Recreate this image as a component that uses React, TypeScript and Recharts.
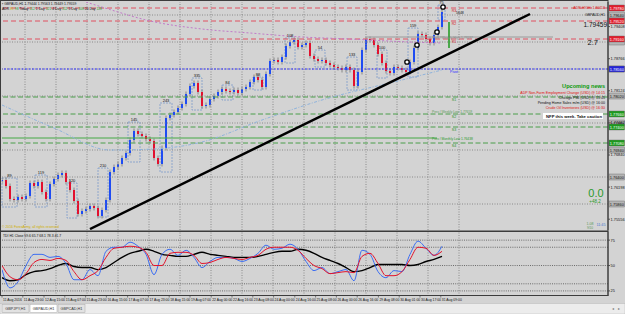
import React from "react";
import {
  ComposedChart,
  Bar,
  Line,
  XAxis,
  YAxis,
  ReferenceLine,
  ReferenceArea,
  ReferenceDot,
} from "recharts";

// GBPAUD H1 chart, one candle here stands for ~3 hours (11 Aug - 31 Aug 2016)
const closes = [
  1.7634, 1.7622, 1.7596, 1.7594, 1.76, 1.7596, 1.7602, 1.7628, 1.7622, 1.763,
  1.761, 1.7596, 1.7626, 1.7636, 1.7644, 1.7648, 1.763, 1.7614, 1.7592, 1.7566,
  1.7572, 1.7576, 1.7582, 1.7578, 1.7562, 1.7574, 1.7594, 1.765, 1.766, 1.7666,
  1.7678, 1.7688, 1.7714, 1.7732, 1.7726, 1.7722, 1.7716, 1.7712, 1.7678, 1.7666,
  1.7698, 1.7758, 1.7764, 1.777, 1.7778, 1.7786, 1.7806, 1.7822, 1.7828, 1.781,
  1.7782, 1.7784, 1.7796, 1.7802, 1.781, 1.7816, 1.7812, 1.781, 1.7814, 1.7808,
  1.7816, 1.782, 1.783, 1.784, 1.7834, 1.782, 1.7846, 1.7872, 1.7874, 1.787,
  1.788, 1.7902, 1.791, 1.7914, 1.79, 1.7904, 1.7908, 1.7882, 1.7876, 1.7872,
  1.7874, 1.7868, 1.7864, 1.786, 1.7858, 1.7854, 1.786, 1.7854, 1.7822, 1.785,
  1.7894, 1.7916, 1.7914, 1.7904, 1.7886, 1.7868, 1.7852, 1.7848, 1.786, 1.7858,
  1.7854, 1.785, 1.787, 1.7898, 1.7926, 1.7924, 1.7916, 1.7908, 1.7924, 1.794,
  1.797,
];

// moving averages and trendline: [bar index, price]
const slowMA: [number, number][] = [
  [21, 1.799], [29, 1.797], [36, 1.7954], [50, 1.7936], [62, 1.7928],
  [75, 1.792], [87, 1.7916], [102, 1.791], [110, 1.7908],
];
const fastMA: [number, number][] = [
  [0, 1.7784], [13, 1.7738], [27, 1.7694], [38, 1.7696], [50, 1.771],
  [65, 1.7754], [80, 1.7794], [100, 1.7834], [110, 1.7854],
];
const trendPts: [number, number][] = [[22, 1.7536], [132, 1.7966]];

// swing boxes: label, first bar, last bar, low, high
const swings: [string, number, number, number, number][] = [
  ["89", 0, 3.75, 1.758, 1.7638],
  ["119", 8.25, 11.25, 1.758, 1.7644],
  ["120", 16.25, 18.75, 1.7558, 1.7628],
  ["210", 24, 26.5, 1.756, 1.7658],
  ["145", 31.5, 34.5, 1.767, 1.775],
  ["243", 39.5, 42.5, 1.765, 1.7788],
  ["335", 47.5, 50, 1.7774, 1.7838],
  ["84", 55, 57.75, 1.7794, 1.7824],
  ["88", 62.75, 65.25, 1.7814, 1.784],
  ["108", 70.75, 73.25, 1.7868, 1.7918],
  ["54", 78.25, 80.75, 1.786, 1.7894],
  ["133", 86.25, 88.75, 1.7814, 1.788],
  ["100", 93.75, 96.25, 1.7838, 1.7894],
  ["159", 101.5, 104, 1.784, 1.7938],
  ["75", 109, 110.75, 1.7954, 1.7984],
];
const zigzag: [number, number][] = [[101.25, 1.787], [103.75, 1.7904], [108.75, 1.793], [110.25, 1.798]];

const redLevels = [1.7978, 1.7952, 1.7916];
const pivotLevel = 1.7856;
const greenLevels = [1.78, 1.7766, 1.774, 1.7708];
const monthlyLow = 1.7718;
const weeklyHigh = 1.792;
const levelNames = ["R3", "R2", "R1", "Pivot", "S1", "S2", "S3", "S4"];

const gridPrices = [1.7964, 1.791, 1.7856, 1.7802, 1.7748, 1.7694, 1.764, 1.7586];
const gridBars = [5.75, 13.5, 21.25, 29, 36.75, 44.5, 52.25, 60, 67.75, 75.5, 83.25, 91, 98.75, 106.5, 114.25];
const priceTicks = [
  1.79836, 1.79622, 1.79408, 1.79194, 1.7898, 1.78766, 1.78552, 1.78338, 1.78124, 1.7791, 1.77696,
  1.77482, 1.77268, 1.77054, 1.7684, 1.76626, 1.76412, 1.76198, 1.75984, 1.7577, 1.75556,
];

// TDI oscillator, one value every two bars
const tdiFast = [
  46, 28, 34, 50, 61, 61, 58, 59, 52, 36, 36, 46, 40, 64, 68, 68, 73, 69, 61, 41, 61, 66, 60, 65, 58, 48, 54, 58,
  58, 57, 54, 57, 62, 70, 66, 67, 71, 66, 54, 45, 48, 42, 44, 46, 35, 65, 61, 44, 38, 45, 44, 61, 74, 67, 60, 69,
];
const tdiSignal = [
  50, 39, 36, 42, 53, 56, 55, 57, 55, 44, 36, 40, 45, 58, 67, 68, 69, 68, 63, 50, 50, 62, 63, 63, 60, 52, 53, 56,
  58, 57, 56, 58, 60, 66, 68, 68, 68, 65, 57, 50, 47, 42, 43, 44, 43, 59, 62, 52, 40, 40, 44, 56, 68, 67, 60, 64,
];
const tdiBase = [
  38, 35, 36, 41, 44, 45, 47, 50, 52, 49, 48, 48, 46, 48, 53, 58, 62, 64, 66, 64, 61, 60, 59, 59, 61, 63, 61, 60,
  59, 58, 58, 58, 59, 61, 63, 64, 64, 66, 65, 62, 58, 55, 52, 48, 44, 45, 48, 51, 51, 51, 51, 50, 51, 54, 56, 59,
];
const tdiLevels = [75, 68, 50, 32, 25];

const timeLabels = [
  "11 Aug 2016", "11 Aug 23:00", "12 Aug 15:00", "15 Aug 07:00", "15 Aug 23:00", "16 Aug 15:00",
  "17 Aug 07:00", "17 Aug 23:00", "18 Aug 15:00", "19 Aug 07:00", "22 Aug 00:00", "22 Aug 16:00",
  "23 Aug 08:00", "24 Aug 00:00", "24 Aug 16:00", "25 Aug 08:00", "26 Aug 00:00", "26 Aug 16:00",
  "29 Aug 08:00", "30 Aug 01:00", "30 Aug 17:00", "31 Aug 09:00",
];
const timeTickPos = [0, 5.2, 10.5, 15.7, 20.9, 26.1, 31.4, 36.6, 41.8, 47, 52.3, 57.5, 62.7, 67.9, 73.2, 78.4, 83.6, 88.8, 94.1, 99.3, 104.5, 109.7];

const news: [string, string][] = [
  ["ADP Non-Farm Employment Change (USD) @ 14:15", "#e01010"],
  ["Chicago PMI (USD) @ 15:45", "#111"],
  ["Pending Home Sales m/m (USD) @ 16:00", "#111"],
  ["Crude Oil Inventories (USD) @ 16:30", "#e01010"],
];
const tabs = ["GBPJPY,H1", "GBPAUD,H1", "GBPCAD,H1"];

const FONT = "Liberation Sans, DejaVu Sans, sans-serif";
const BG = "#d3d3d3";
const X_DOMAIN: [number, number] = [0, 151.5];

type Row = { i: number; o?: number; c?: number; body?: [number, number]; ma1?: number; ma2?: number; trend?: number };
const rows: Row[] = Array.from({ length: 133 }, (_, i) => ({ i }));
closes.forEach((c, i) => {
  const o = i === 0 ? c : closes[i - 1];
  rows[i].o = o;
  rows[i].c = c;
  rows[i].body = [Math.min(o, c), Math.max(o, c)];
});
slowMA.forEach(([i, v]) => (rows[i].ma1 = v));
fastMA.forEach(([i, v]) => (rows[i].ma2 = v));
trendPts.forEach(([i, v]) => (rows[i].trend = v));

const oscRows = tdiFast.map((v, k) => ({ i: k * 2, fast: v, signal: tdiSignal[k], base: tdiBase[k] }));

function Candle(props: any) {
  const { x, width, payload } = props;
  let { y, height } = props;
  if (!payload || payload.c == null || y == null || isNaN(y)) return <g />;
  if (height < 0) {
    y += height;
    height = -height;
  }
  const h = Math.max(height, 1);
  const up = payload.c >= payload.o;
  const cx = x + width / 2;
  return (
    <g>
      <line x1={cx} x2={cx} y1={y - 2.5} y2={y + h + 2.5} stroke="#7e7e7e" strokeWidth={0.9} />
      <rect x={x} y={y} width={width} height={h} fill={up ? "#1f4cf2" : "#e2102e"} />
    </g>
  );
}

function PriceTag(props: any) {
  const { viewBox, bg, fg, price } = props;
  if (!viewBox) return null;
  const x = viewBox.x + viewBox.width + 1;
  const y = viewBox.y;
  return (
    <g>
      <rect x={x} y={y - 3} width={15.5} height={6} fill={bg} stroke="#666" strokeWidth={0.4} />
      {price ? (
        <text x={x + 0.8} y={y + 1.5} fontSize={3.9} fill={fg} fontFamily={FONT}>
          {price}
        </text>
      ) : null}
    </g>
  );
}

function PriceTick({ x, y, payload }: any) {
  return (
    <text x={x + 0.5} y={y + 1.4} fontSize={3.9} fill="#111" fontFamily={FONT}>
      {Number(payload.value).toFixed(5)}
    </text>
  );
}

function OscTick({ x, y, payload }: any) {
  return (
    <text x={x + 0.5} y={y + 1.4} fontSize={3.9} fill="#111" fontFamily={FONT}>
      {payload.value}
    </text>
  );
}

function TimeTick(props: any) {
  const { x, y, payload } = props;
  const idx = props.index ?? timeTickPos.indexOf(payload.value);
  return (
    <g>
      <line x1={x} x2={x} y1={y} y2={y + 1.5} stroke="#333" strokeWidth={0.6} />
      <text x={x + 1} y={y + 5} fontSize={3.4} fill="#111" fontFamily={FONT}>
        {timeLabels[idx]}
      </text>
    </g>
  );
}

export default function App() {
  const levelColors = ["#d42020", "#d42020", "#d42020", "#2b2bff", "#2a8f2a", "#2a8f2a", "#2a8f2a", "#2a8f2a"];
  const levelPrices = [...redLevels, pivotLevel, ...greenLevels];
  return (
    <div style={{ position: "absolute", left: 0, top: 0, width: 625, height: 314, background: BG, overflow: "hidden" }}>
      <div style={{ position: "absolute", left: 0, top: 0 }}>
        <ComposedChart width={625} height={232} data={rows} margin={{ top: 2, right: 0, bottom: 2, left: 2 }}>
          <XAxis dataKey="i" type="number" domain={X_DOMAIN} hide allowDataOverflow />
          <YAxis
            orientation="right"
            width={17}
            domain={[1.7534, 1.799]}
            ticks={priceTicks}
            tick={<PriceTick />}
            tickSize={2}
            tickMargin={0}
            tickLine={{ stroke: "#555" }}
            axisLine={{ stroke: "#444" }}
            allowDataOverflow
          />
          {gridBars.map((b) => (
            <ReferenceLine key={"v" + b} x={b} stroke="#8a8a8a" strokeDasharray="1 1.5" />
          ))}
          {gridPrices.map((p) => (
            <ReferenceLine
              key={"g" + p}
              y={p}
              stroke="#8a8a8a"
              strokeDasharray="1 1.5"
              label={<PriceTag bg="#b5b5b5" fg="#111" price={p === 1.791 ? "" : p.toFixed(5)} />}
            />
          ))}
          {redLevels.map((p) => (
            <ReferenceLine
              key={"r" + p}
              y={p}
              stroke="#e05060"
              strokeDasharray="5 3"
              label={<PriceTag bg="#e21d2c" fg="#fff" price={p.toFixed(5)} />}
            />
          ))}
          <ReferenceLine
            y={pivotLevel}
            stroke="#3535ff"
            strokeDasharray="2 1.5"
            label={<PriceTag bg="#2424d8" fg="#fff" price={pivotLevel.toFixed(5)} />}
          />
          {greenLevels.map((p, k) => (
            <ReferenceLine
              key={"s" + p}
              y={p}
              stroke="#4a9e4a"
              strokeDasharray="5 2.5"
              label={k === 0 ? undefined : <PriceTag bg="#1e9a1e" fg="#fff" price={p.toFixed(5)} />}
            />
          ))}
          <ReferenceLine segment={[{ x: 0, y: monthlyLow }, { x: 108.75, y: monthlyLow }]} stroke="#45a845" />
          <ReferenceLine segment={[{ x: 91.25, y: weeklyHigh }, { x: 137.75, y: weeklyHigh }]} stroke="#9a9a9a" />
          <ReferenceLine segment={[{ x: 111.75, y: 1.795 }, { x: 111.75, y: 1.7898 }]} stroke="#1c9a1c" strokeWidth={1.5} />
          {swings.map(([n, x1, x2, lo, hi]) => (
            <ReferenceArea
              key={"b" + n + x1}
              x1={x1}
              x2={x2}
              y1={lo}
              y2={hi}
              fill="none"
              stroke="#7d9ccc"
              strokeWidth={0.8}
              strokeDasharray="2 1"
              label={{ value: n, position: "top", offset: 1.5, fontSize: 4, fill: "#111", fontFamily: FONT }}
            />
          ))}
          <Line dataKey="ma1" type="monotone" stroke="#c27ac9" strokeWidth={1} strokeDasharray="2 2" dot={false} connectNulls isAnimationActive={false} />
          <Line dataKey="ma2" type="monotone" stroke="#8fb3dc" strokeWidth={1} strokeDasharray="3 1.5 1 1.5" dot={false} connectNulls isAnimationActive={false} />
          <Bar dataKey="body" barSize={2} shape={<Candle />} isAnimationActive={false} />
          <Line dataKey="trend" stroke="#000" strokeWidth={2.5} dot={false} connectNulls isAnimationActive={false} />
          {zigzag.map(([i, p]) => (
            <ReferenceDot key={"z" + i} x={i} y={p} r={2.2} fill="#fff" stroke="#000" strokeWidth={1.3} />
          ))}
          {levelPrices.map((p, k) => (
            <ReferenceDot
              key={"n" + p}
              x={113}
              y={p}
              r={0}
              fill="none"
              stroke="none"
              label={{ value: levelNames[k], position: "bottom", offset: 1, fontSize: 3.6, fill: levelColors[k], fontFamily: FONT }}
            />
          ))}
        </ComposedChart>
      </div>
      <div style={{ position: "absolute", left: 0, top: 231 }}>
        <ComposedChart width={625} height={73} data={oscRows} margin={{ top: 1, right: 0, bottom: 0, left: 2 }}>
          <XAxis
            dataKey="i"
            type="number"
            domain={X_DOMAIN}
            ticks={timeTickPos}
            interval={0}
            tick={<TimeTick />}
            tickSize={0}
            tickMargin={0}
            height={8}
            axisLine={false}
            tickLine={false}
            allowDataOverflow
          />
          <YAxis
            orientation="right"
            width={17}
            domain={[20, 83]}
            ticks={tdiLevels}
            tick={<OscTick />}
            tickSize={2}
            tickMargin={0}
            tickLine={{ stroke: "#555" }}
            axisLine={{ stroke: "#444" }}
            allowDataOverflow
          />
          {gridBars.map((b) => (
            <ReferenceLine key={"ov" + b} x={b} stroke="#8a8a8a" strokeDasharray="1 1.5" />
          ))}
          {tdiLevels.map((v) => (
            <ReferenceLine key={"ol" + v} y={v} stroke="#6a6a6a" strokeDasharray="1 1.2" />
          ))}
          <Line dataKey="base" type="monotone" stroke="#000" strokeWidth={1.4} dot={false} isAnimationActive={false} />
          <Line dataKey="fast" type="monotone" stroke="#3d6ef2" strokeWidth={1} dot={false} isAnimationActive={false} />
          <Line dataKey="signal" type="monotone" stroke="#e3142c" strokeWidth={1} dot={false} isAnimationActive={false} />
        </ComposedChart>
      </div>
      <svg width={625} height={314} style={{ position: "absolute", left: 0, top: 0, pointerEvents: "none" }} fontFamily={FONT}>
        <rect x={0.5} y={0.5} width={607.5} height={230.5} fill="none" stroke="#3c3c3c" />
        <rect x={0.5} y={231.5} width={607.5} height={64} fill="none" stroke="#3c3c3c" />
        <text x={2} y={5} fontSize={3.4} fill="#111">
          ▪ GBPAUD,H1  1.79444 1.79563 1.79449 1.79559
        </text>
        <text x={2} y={9.5} fontSize={3.4} fill="#111">
          <tspan>ADR</tspan>
          <tspan fill="#c8b000"> 81 </tspan>
          <tspan fill="#2a9a2a">98  </tspan>
          <tspan>Today</tspan>
          <tspan fill="#2a9a2a"> 112  </tspan>
          <tspan>1 Day</tspan>
          <tspan fill="#2a9a2a"> 121  </tspan>
          <tspan>4 Day</tspan>
          <tspan fill="#2a9a2a"> 112  </tspan>
          <tspan>5 Day</tspan>
          <tspan fill="#2a9a2a"> 108  </tspan>
          <tspan>20 Day</tspan>
          <tspan fill="#2a9a2a"> 118</tspan>
        </text>
        <text x={605} y={9} fontSize={3.5} fill="#d81818" textAnchor="end">ADR-HIGH: 1.80113</text>
        <text x={605} y={16} fontSize={3.5} fill="#222" textAnchor="end">GBPAUD,H1</text>
        <text x={456} y={14} fontSize={3.5} fill="#111">5648</text>
        <text x={607} y={27} fontSize={6.5} fill="#111" textAnchor="end">1.79459</text>
        <text x={598} y={45} fontSize={7.5} fill="#111" textAnchor="end">2.7</text>
        <text x={432} y={39} fontSize={3.3} fill="#8a8a8a">Prev / Weekly High 1.79197</text>
        <text x={432} y={113} fontSize={3.3} fill="#5a9a5a">Prev / Weekly Low 1.77659</text>
        <text x={432} y={140} fontSize={3.3} fill="#2a9a2a">Prev / Monthly Low 1.76438</text>
        <text x={605} y={88} fontSize={5.6} fill="#0a9a0a" fontWeight="bold" textAnchor="end">Upcoming news</text>
        {news.map(([t, c], k) => (
          <text key={t} x={605} y={93.5 + k * 5.3} fontSize={3.6} fill={c} textAnchor="end">
            {t}
          </text>
        ))}
        <rect x={543} y={113} width={60} height={6} fill="#fff" />
        <text x={602} y={117.8} fontSize={4.2} fill="#111" fontWeight="bold" textAnchor="end">NFP this week. Take caution</text>
        <text x={596} y={197} fontSize={11} fill="#2a9a2a" textAnchor="middle">0.0</text>
        <text x={595} y={203} fontSize={4.5} fill="#2a9a2a" textAnchor="middle">+48.2</text>
        <text x={590} y={225} fontSize={3.6} fill="#5a9a5a" textAnchor="middle">1.08</text>
        <text x={590} y={229} fontSize={3.2} fill="#5a9a5a" textAnchor="middle">9/10</text>
        <text x={601} y={226} fontSize={3.8} fill="#4a7ad0" textAnchor="middle">11:45</text>
        <text x={2} y={228} fontSize={3.4} fill="#d0b000">© 2016 ForexArmy, all rights reserved</text>
        <text x={3} y={237} fontSize={3.4} fill="#111">TDI H1 Close 59.6 65.7 68.1 78.3 41.7</text>
        <rect x={0} y={303.5} width={625} height={10.5} fill="#ececec" stroke="#b8b8b8" strokeWidth={0.5} />
        {tabs.map((t, k) => (
          <g key={t}>
            <rect x={2 + k * 28} y={304.5} width={27} height={8} fill={k === 1 ? "#fff" : "#e2e2e2"} stroke="#a8a8a8" strokeWidth={0.5} />
            <text x={15.5 + k * 28} y={310} fontSize={3.8} fill="#333" textAnchor="middle">{t}</text>
          </g>
        ))}
        <text x={612} y={310} fontSize={4} fill="#777">◂</text>
        <text x={618} y={310} fontSize={4} fill="#777">▸</text>
      </svg>
    </div>
  );
}
